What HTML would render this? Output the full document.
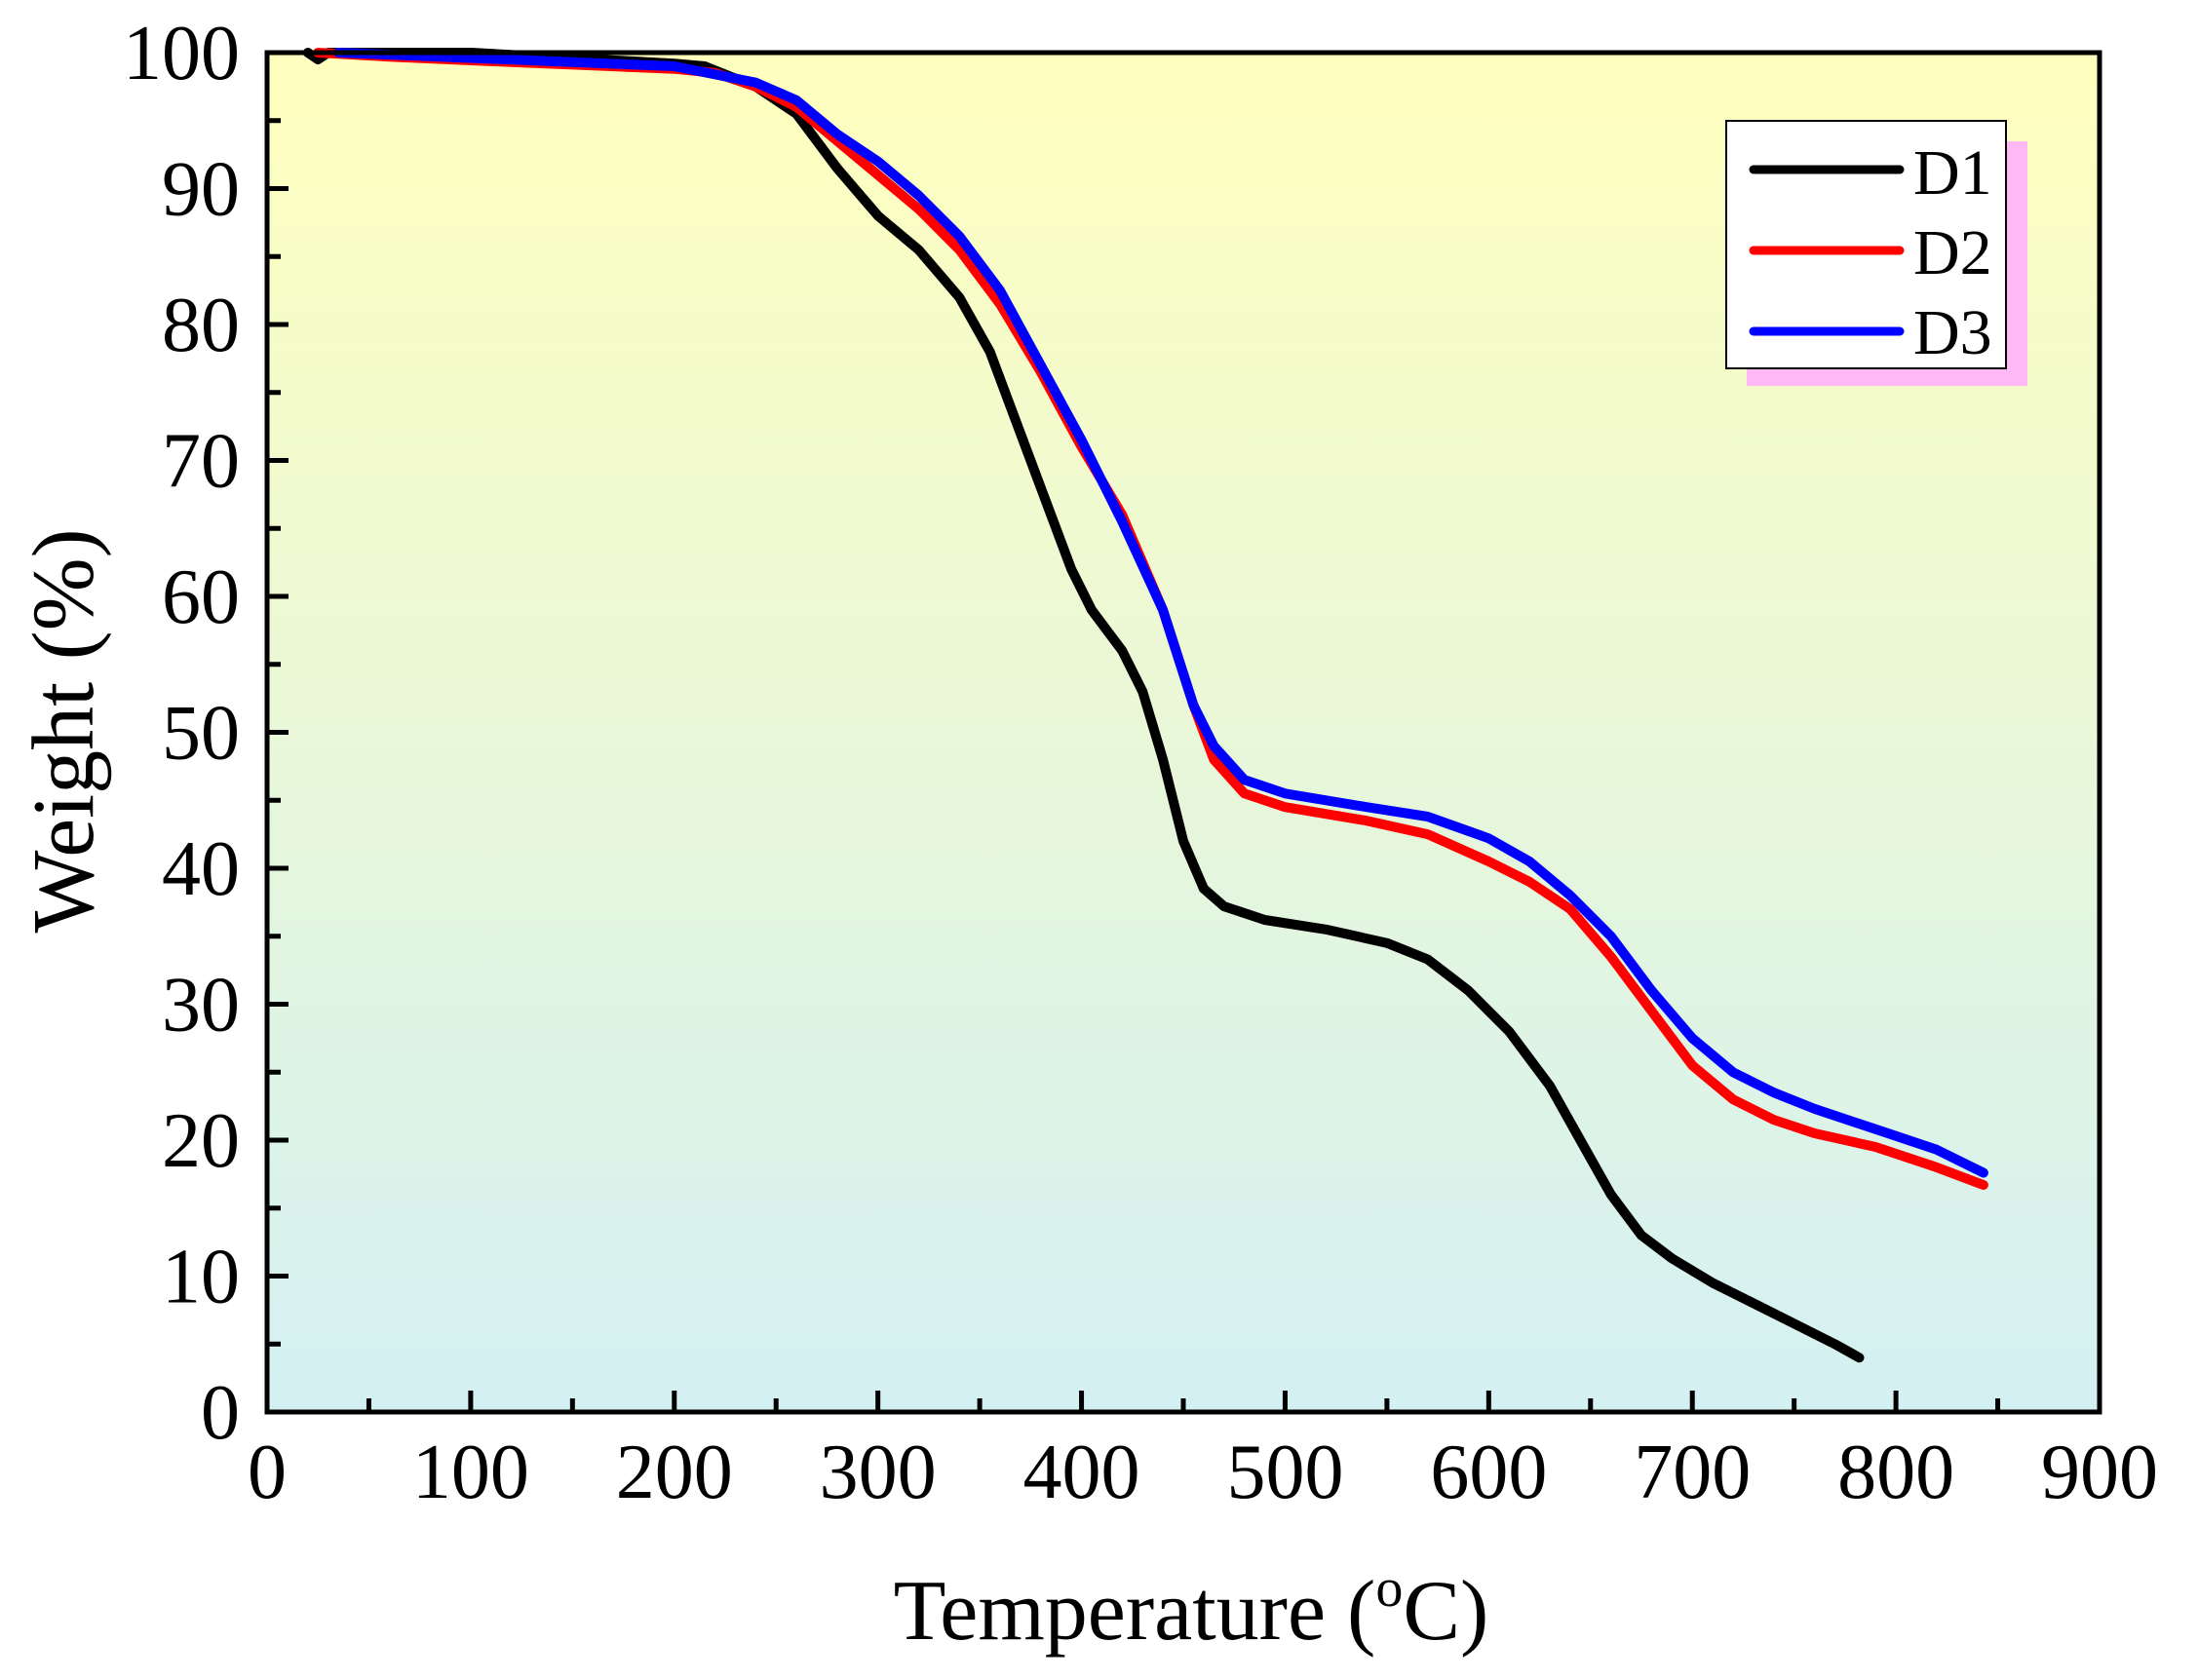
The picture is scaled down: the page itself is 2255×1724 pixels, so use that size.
<!DOCTYPE html>
<html><head><meta charset="utf-8"><style>
html,body{margin:0;padding:0;background:#fff;}
svg{display:block;font-family:"Liberation Serif",serif;}
</style></head><body>
<svg id="chart" width="2255" height="1724" viewBox="0 0 2255 1724" xmlns="http://www.w3.org/2000/svg">
<defs><linearGradient id="bg" x1="0" y1="0" x2="0" y2="1">
<stop offset="0" stop-color="#FFFFBE"/><stop offset="1" stop-color="#D3F0F3"/></linearGradient></defs>
<rect x="274" y="54" width="1880" height="1395" fill="url(#bg)"/>
<g id="series"></g>
<g id="ticks"></g>
<rect x="274" y="54" width="1880" height="1395" fill="none" stroke="#000" stroke-width="5"/>
<g>
<rect x="1792" y="145" width="288" height="251" fill="#FDB8F5"/>
<rect x="1771" y="124" width="287" height="254" fill="#fff" stroke="#000" stroke-width="2"/>
<line x1="1799" y1="174" x2="1949" y2="174" stroke="#000" stroke-width="9" stroke-linecap="round"/>
<text x="1963" y="199" font-size="66">D1</text>
<line x1="1799" y1="257" x2="1949" y2="257" stroke="#f00" stroke-width="9" stroke-linecap="round"/>
<text x="1963" y="281" font-size="66">D2</text>
<line x1="1799" y1="340" x2="1949" y2="340" stroke="#00f" stroke-width="9" stroke-linecap="round"/>
<text x="1963" y="363" font-size="66">D3</text>
</g>
<text x="1222" y="1682" font-size="88" text-anchor="middle">Temperature (<tspan font-size="56" dy="-34">o</tspan><tspan dy="34">C)</tspan></text>
<text transform="translate(95,750) rotate(-90)" font-size="90" text-anchor="middle">Weight (%)</text>
</svg>
<script>
const xTicks=[0,100,200,300,400,500,600,700,800,900];
const yTicks=[0,10,20,30,40,50,60,70,80,90,100];
const d1T=[20,25,30,100,200,215,240,260,280,300,320,340,355,370,385,395,405,420,430,440,450,460,470,490,520,550,570,590,610,630,645,660,675,690,710,730,750,770,782];
const d1W=[100,99.5,100,100,99.2,99,97.5,95.5,91.5,88,85.5,82,78,72,66,62,59,56,53,48,42,38.5,37.2,36.2,35.5,34.5,33.3,31,28,24,20,16,13,11.3,9.5,8,6.5,5,4];
const d2T=[25,60,120,200,220,240,260,280,300,320,340,360,380,400,420,440,455,465,480,500,540,570,600,620,640,660,680,700,720,740,760,790,820,843];
const d2W=[100,99.7,99.3,98.8,98.5,97.5,96,93.5,91,88.5,85.5,81.5,76.5,71,66,59,52,48,45.5,44.5,43.5,42.5,40.5,39,37,33.5,29.5,25.5,23,21.5,20.5,19.5,18,16.7];
const d3T=[35,200,240,260,280,300,320,340,360,380,400,420,440,455,465,480,500,540,570,600,620,640,660,680,700,720,740,760,790,820,843];
const d3W=[100,99,97.8,96.5,94,92,89.5,86.5,82.5,77,71.5,65.5,59,52,49,46.5,45.5,44.5,43.8,42.2,40.5,38,35,31,27.5,25,23.5,22.3,20.8,19.3,17.6];
const X0=274,X1=2154,Y0=1449,Y1=54;
const sx=v=>X0+(v-0)/900*(X1-X0);
const sy=v=>Y0-(v-0)/100*(Y0-Y1);
const NS="http://www.w3.org/2000/svg";
const sg=document.getElementById('series'), tg=document.getElementById('ticks');
function mk(tag,attrs,parent){const e=document.createElementNS(NS,tag);for(const k in attrs)e.setAttribute(k,attrs[k]);parent.appendChild(e);return e;}
function addSeries(T,W,color,name){
  const d=T.map((t,i)=>(i?'L':'M')+sx(t).toFixed(1)+','+sy(W[i]).toFixed(1)).join(' ');
  const p=mk('path',{d:d,fill:'none',stroke:color,'stroke-width':10,'stroke-linejoin':'round','stroke-linecap':'round'},sg);
  
  
}
addSeries(d1T,d1W,'#000','series-d1');
addSeries(d2T,d2W,'#f00','series-d2');
addSeries(d3T,d3W,'#00f','series-d3');
xTicks.forEach((v,i)=>{
  const x=sx(v);
  const l=mk('line',{x1:x,y1:Y0,x2:x,y2:Y0-22,stroke:'#000','stroke-width':5},tg);
  
  
  if(i<xTicks.length-1){const m=mk('line',{x1:sx(v+50),y1:Y0,x2:sx(v+50),y2:Y0-14,stroke:'#000','stroke-width':5},tg);
  
  }
  const t=mk('text',{x:x,y:1537,'font-size':80,'text-anchor':'middle'},tg);
  t.textContent=v;
  
  
});
yTicks.forEach((v,i)=>{
  const y=sy(v);
  const l=mk('line',{x1:X0,y1:y,x2:X0+22,y2:y,stroke:'#000','stroke-width':5},tg);
  
  
  if(i<yTicks.length-1){const m=mk('line',{x1:X0,y1:sy(v+5),x2:X0+14,y2:sy(v+5),stroke:'#000','stroke-width':5},tg);
  
  }
  const t=mk('text',{x:246,y:y+27,'font-size':80,'text-anchor':'end'},tg);
  t.textContent=v;
  
  
});
</script>
</body></html>
